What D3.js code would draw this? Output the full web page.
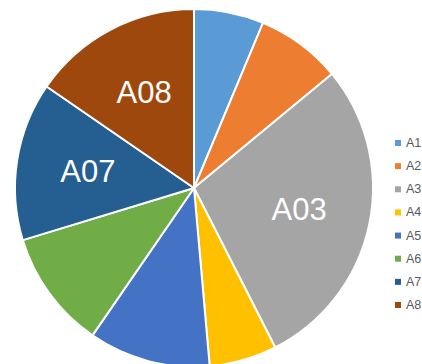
<!DOCTYPE html>
<html>
<head>
<meta charset="utf-8">
<script src="https://cdn.jsdelivr.net/npm/d3@7"></script>
<style>
  html, body { margin: 0; padding: 0; background: #fff; overflow: hidden; }
  svg { display: block; }
</style>
</head>
<body>
<svg id="chart" width="422" height="364"></svg>
<script>
// Categories, their shares (%) and the colours for each slice
const categories = ["A01", "A02", "A03", "A04", "A05", "A06", "A07", "A08"];
const legendLabels = ["A1", "A2", "A3", "A4", "A5", "A6", "A7", "A8"];
const values = [6.3, 7.7, 28.5, 6.1, 11.0, 10.7, 14.3, 15.4];
const colors = ["#5B9BD5", "#ED7D31", "#A5A5A5", "#FFC000", "#4472C4", "#70AD47", "#255E91", "#9E480E"];
// Only the larger slices carry a name label
const labelThreshold = 12;

const svg = d3.select("#chart");
const cx = 194, cy = 188, radius = 179;

const data = categories.map((c, i) => ({ name: c, legend: legendLabels[i], value: values[i], color: colors[i] }));

const pie = d3.pie().value(d => d.value).sort(null);
const arc = d3.arc().innerRadius(0).outerRadius(radius);
const labelArc = d3.arc().innerRadius(radius * 0.6).outerRadius(radius * 0.6);

const g = svg.append("g").attr("transform", `translate(${cx},${cy})`);
const arcs = pie(data);

g.selectAll("path")
  .data(arcs)
  .join("path")
  .attr("d", arc)
  .attr("fill", d => d.data.color)
  .attr("stroke", "#fff")
  .attr("stroke-width", 2)
  .attr("stroke-linejoin", "round");

g.selectAll("text.slice-label")
  .data(arcs.filter(d => d.data.value > labelThreshold))
  .join("text")
  .attr("class", "slice-label")
  .attr("transform", d => `translate(${labelArc.centroid(d)})`)
  .attr("text-anchor", "middle")
  .attr("dominant-baseline", "central")
  .attr("font-family", "Liberation Sans, Arial, sans-serif")
  .attr("font-size", 31)
  .attr("fill", "#fff")
  .text(d => d.data.name);

// Legend on the right
const legendY = d3.scalePoint()
  .domain(categories)
  .range([143, 305]);

const legend = svg.append("g");
const item = legend.selectAll("g")
  .data(data)
  .join("g")
  .attr("transform", d => `translate(395,${legendY(d.name)})`);

item.append("rect")
  .attr("x", 0)
  .attr("y", -3)
  .attr("width", 6)
  .attr("height", 6)
  .attr("fill", d => d.color);

item.append("text")
  .attr("x", 11)
  .attr("y", 0)
  .attr("dominant-baseline", "central")
  .attr("font-family", "Liberation Sans, Arial, sans-serif")
  .attr("font-size", 12.5)
  .attr("fill", "#595959")
  .text(d => d.legend);
</script>
</body>
</html>
